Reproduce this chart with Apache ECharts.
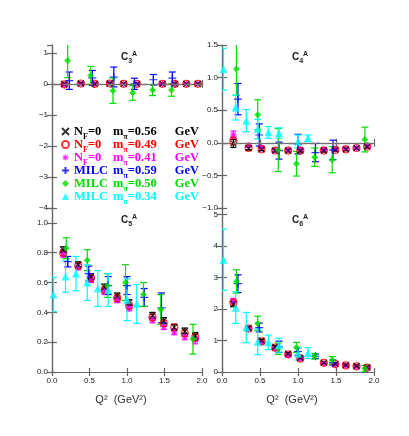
<!DOCTYPE html>
<html>
<head>
<meta charset="utf-8">
<script src="https://cdn.jsdelivr.net/npm/echarts@6/dist/echarts.min.js"></script>
<style>
  html, body { margin: 0; padding: 0; background: #fff; }
  #chart { width: 409px; height: 436px; }
</style>
</head>
<body>
<div id="chart"></div>
<script>
// Q^2 positions (GeV^2) of each data set
const qNf = [0.15, 0.35, 0.52, 0.70, 0.87, 1.03, 1.34, 1.49, 1.63, 1.77, 1.91];
const qBlue = [0.21, 0.49, 0.75, 1.00, 1.23, 1.46];
const qGreen = [0.19, 0.47, 0.74, 0.98, 1.22, 1.45, 1.88];
const qCyan = [0.02, 0.18, 0.32, 0.47, 0.61, 0.75, 1.00, 1.13];

// C3^A
const c3Black = [0.00, 0.01, 0.00, 0.01, 0.00, 0.00, 0.00, 0.00, 0.00, 0.00];
const c3Red = [-0.02, 0.01, 0.00, 0.01, 0.00, 0.00, 0.00, 0.00, 0.00, 0.00];
const c3Mag = [-0.04, 0.01, 0.00, 0.02, 0.00, 0.00, 0.00, 0.00, 0.00, 0.00];
const c3NfErr = [0.03, 0.02, 0.02, 0.02, 0.02, 0.02, 0.02, 0.02, 0.02, 0.02];
const c3Blue = [0.10, 0.19, 0.22, 0.00, 0.13, 0.18];
const c3BlueErr = [0.28, 0.24, 0.32, 0.18, 0.17, 0.20];
const c3Green = [0.75, 0.27, -0.22, -0.29, -0.20, -0.20];
const c3GreenErr = [0.55, 0.29, 0.41, 0.24, 0.18, 0.20];

// C4^A
const c4Black = [-0.01, -0.08, -0.10, -0.12, -0.12, -0.12, -0.12, -0.11, -0.10, -0.08, -0.06];
const c4Red = [0.03, -0.08, -0.10, -0.12, -0.12, -0.12, -0.12, -0.11, -0.10, -0.08, -0.06];
const c4Mag = [0.12, -0.04, -0.07, -0.11, -0.11, -0.10, -0.10, -0.10, -0.09, -0.08, -0.05];
const c4NfErr = [0.06, 0.03, 0.02, 0.02, 0.02, 0.02, 0.02, 0.02, 0.02, 0.02, 0.02];
const c4Blue = [0.67, 0.12, -0.12, -0.02, -0.15, -0.11];
const c4BlueErr = [0.24, 0.17, 0.13, 0.15, 0.14, 0.15];
const c4Green = [1.13, 0.43, -0.11, -0.32, -0.22, -0.26, 0.05];
const c4GreenErr = [0.40, 0.23, 0.33, 0.19, 0.14, 0.20, 0.19];
const c4Cyan = [1.13, 0.54, 0.34, 0.21, 0.16, 0.15, 0.02, 0.07];
const c4CyanErr = [0.32, 0.19, 0.17, 0.15, 0.09, 0.08, 0.10, 0.05];

// C5^A
const c5Black = [0.82, 0.72, 0.64, 0.57, 0.51, 0.465, 0.38, 0.345, 0.30, 0.275, 0.24];
const c5Red = [0.80, 0.714, 0.63, 0.55, 0.495, 0.444, 0.367, 0.327, 0.30, 0.26, 0.232];
const c5Mag = [0.79, 0.705, 0.62, 0.54, 0.485, 0.43, 0.35, 0.305, 0.27, 0.237, 0.214];
const c5NfErr = [0.02, 0.02, 0.02, 0.02, 0.02, 0.02, 0.02, 0.02, 0.02, 0.02, 0.025];
const c5Blue = [0.74, 0.66, 0.58, 0.58, 0.50, 0.43];
const c5BlueErr = [0.035, 0.05, 0.06, 0.06, 0.06, 0.10];
const c5Green = [0.83, 0.75, 0.58, 0.60, 0.52, 0.42, 0.22];
const c5GreenErr = [0.07, 0.07, 0.08, 0.12, 0.08, 0.10, 0.10];
const c5Cyan = [0.52, 0.64, 0.66, 0.60, 0.56, 0.55, 0.485, 0.457];
const c5CyanErr = [0.115, 0.105, 0.115, 0.12, 0.12, 0.11, 0.14, 0.13];

// C6^A
const c6Black = [2.15, 1.40, 1.00, 0.80, 0.58, 0.45, 0.30, 0.26, 0.22, 0.19, 0.15];
const c6Red = [2.20, 1.38, 0.97, 0.77, 0.56, 0.43, 0.29, 0.25, 0.21, 0.18, 0.14];
const c6Mag = [2.25, 1.36, 0.93, 0.74, 0.53, 0.41, 0.27, 0.23, 0.20, 0.17, 0.13];
const c6NfErr = [0.08, 0.05, 0.04, 0.04, 0.04, 0.03, 0.03, 0.03, 0.03, 0.03, 0.03];
const c6Blue = [2.80, 1.41, 0.80, 0.65, 0.50, 0.30];
const c6BlueErr = [0.28, 0.14, 0.18, 0.12, 0.07, 0.08];
const c6Green = [2.87, 1.54, 0.74, 0.78, 0.50, 0.37, 0.11];
const c6GreenErr = [0.37, 0.23, 0.18, 0.16, 0.09, 0.12, 0.10];
const c6Cyan = [3.56, 2.04, 1.41, 0.96, 0.94, 0.85, 0.58, 0.60];
const c6CyanErr = [0.97, 0.50, 0.48, 0.41, 0.23, 0.22, 0.20, 0.17];

const legendNames = ['nf56', 'nf49', 'nf41', 'milc59', 'milc50', 'milc34'];
const legendMass = ['0.56', '0.49', '0.41', '0.59', '0.50', '0.34'];

const chart = echarts.init(document.getElementById('chart'));

// marker styles
const styles = {
  nf56: { color: '#000000', symbol: 'path://M0,0L10,10M10,0L0,10', size: 6,
    item: { color: 'transparent', borderColor: '#000000', borderWidth: 1.1 }, cap: 3 },
  nf49: { color: '#ff0000', symbol: 'circle', size: 7,
    item: { color: 'transparent', borderColor: '#ff0000', borderWidth: 1.2 }, cap: 3 },
  nf41: { color: '#ff00ff',
    symbol: 'path://M10,5L7.4,6L8.54,8.54L6,7.4L5,10L4,7.4L1.46,8.54L2.6,6L0,5L2.6,4L1.46,1.46L4,2.6L5,0L6,2.6L8.54,1.46L7.4,4Z',
    size: 8, item: { color: '#ff00ff' }, cap: 3 },
  milc59: { color: '#0000ff', symbol: 'path://M5,0L5,10M0,5L10,5', size: 8,
    item: { color: 'transparent', borderColor: '#0000ff', borderWidth: 1.2 }, cap: 3.5 },
  milc50: { color: '#00dd00', symbol: 'diamond', size: 7, item: { color: '#00dd00' }, cap: 3.5 },
  milc34: { color: '#00ffff', symbol: 'triangle', size: 8, item: { color: '#00ffff' }, cap: 3.5 }
};

const series = [];

function makeErr(color, w) {
  return function (params, api) {
    const x = api.value(0);
    const lo = api.coord([x, api.value(2)]);
    const hi = api.coord([x, api.value(3)]);
    const style = { stroke: color, lineWidth: 1.2 };
    return {
      type: 'group',
      children: [
        { type: 'line', shape: { x1: lo[0], y1: lo[1], x2: hi[0], y2: hi[1] }, style: style },
        { type: 'line', shape: { x1: lo[0] - w, y1: lo[1], x2: lo[0] + w, y2: lo[1] }, style: style },
        { type: 'line', shape: { x1: hi[0] - w, y1: hi[1], x2: hi[0] + w, y2: hi[1] }, style: style }
      ]
    };
  };
}

function addSet(gi, key, xs, ys, es) {
  const st = styles[key];
  series.push({
    type: 'custom', name: key + '-err' + gi,
    xAxisIndex: 2 * gi, yAxisIndex: 2 * gi, clip: true,
    renderItem: makeErr(st.color, st.cap),
    encode: { x: 0, y: 1 },
    data: ys.map((y, i) => [xs[i], y, y - es[i], y + es[i]]),
    silent: true
  });
  series.push({
    type: 'scatter', name: key,
    xAxisIndex: 2 * gi, yAxisIndex: 2 * gi, clip: true,
    symbol: st.symbol, symbolSize: st.size, itemStyle: st.item,
    data: ys.map((y, i) => [xs[i], y]),
    silent: true
  });
}

// C3
addSet(0, 'nf41', qNf, c3Mag, c3NfErr);
addSet(0, 'nf49', qNf, c3Red, c3NfErr);
addSet(0, 'nf56', qNf, c3Black, c3NfErr);
addSet(0, 'milc59', qBlue, c3Blue, c3BlueErr);
addSet(0, 'milc50', qGreen, c3Green, c3GreenErr);
// C4
addSet(1, 'nf41', qNf, c4Mag, c4NfErr);
addSet(1, 'nf49', qNf, c4Red, c4NfErr);
addSet(1, 'nf56', qNf, c4Black, c4NfErr);
addSet(1, 'milc59', qBlue, c4Blue, c4BlueErr);
addSet(1, 'milc50', qGreen, c4Green, c4GreenErr);
addSet(1, 'milc34', qCyan, c4Cyan, c4CyanErr);
// C5
addSet(2, 'nf41', qNf, c5Mag, c5NfErr);
addSet(2, 'nf49', qNf, c5Red, c5NfErr);
addSet(2, 'nf56', qNf, c5Black, c5NfErr);
addSet(2, 'milc59', qBlue, c5Blue, c5BlueErr);
addSet(2, 'milc50', qGreen, c5Green, c5GreenErr);
addSet(2, 'milc34', qCyan, c5Cyan, c5CyanErr);
// C6
addSet(3, 'nf41', qNf, c6Mag, c6NfErr);
addSet(3, 'nf49', qNf, c6Red, c6NfErr);
addSet(3, 'nf56', qNf, c6Black, c6NfErr);
addSet(3, 'milc59', qBlue, c6Blue, c6BlueErr);
addSet(3, 'milc50', qGreen, c6Green, c6GreenErr);
addSet(3, 'milc34', qCyan, c6Cyan, c6CyanErr);

// dashed zero lines in the upper panels
[0, 1].forEach(gi => {
  series.push({
    type: 'line', xAxisIndex: 2 * gi, yAxisIndex: 2 * gi, data: [], silent: true,
    markLine: {
      silent: true, symbol: 'none', label: { show: false }, animation: false,
      lineStyle: { color: '#777', width: 1.3, type: [8, 3] },
      data: [{ yAxis: 0 }]
    },
    z: 1
  });
});

const frame = '#666';
const grids = [
  { left: 52, top: 45, width: 150, height: 163 },
  { left: 222, top: 45, width: 152, height: 163 },
  { left: 52, top: 208, width: 150, height: 164 },
  { left: 222, top: 208, width: 152, height: 164 }
];
const xMax = [1.82, 2, 2, 2];
const yRange = [[-4, 1.25, 1], [-1, 1.5, 0.5], [0, 1.1, 0.2], [0, 5.2, 1]];
const yDigits = [0, 1, 1, 0];

const xAxis = [];
const yAxis = [];
grids.forEach((g, gi) => {
  ['bottom', 'top'].forEach(pos => {
    const showLab = pos === 'bottom' && gi >= 2;
    xAxis.push({
      type: 'value', gridIndex: gi, position: pos, min: 0, max: xMax[gi], interval: 0.5,
      axisLine: { show: true, lineStyle: { color: frame, width: 1.2 } },
      axisTick: { show: true, inside: true, length: 4, lineStyle: { color: frame, width: 1.2 } },
      splitLine: { show: false },
      axisLabel: {
        show: showLab, color: '#222', fontSize: 8, fontFamily: 'Liberation Sans', margin: 5,
        formatter: v => v.toFixed(1), showMaxLabel: true
      },
      name: showLab ? 'Q²  (GeV²)' : '', nameLocation: 'middle', nameGap: 22,
      nameTextStyle: { fontSize: 11, color: '#333', fontFamily: 'Liberation Sans', padding: [0, 12, 0, 0] }
    });
  });
  ['left', 'right'].forEach(pos => {
    const r = yRange[gi];
    yAxis.push({
      type: 'value', gridIndex: gi, position: pos, min: r[0], max: r[1], interval: r[2],
      axisLine: { show: true, lineStyle: { color: frame, width: 1.2 } },
      axisTick: { show: true, inside: true, length: 5, lineStyle: { color: frame, width: 1.2 } },
      splitLine: { show: false },
      axisLabel: {
        show: pos === 'left', color: '#222', fontSize: 8, fontFamily: 'Liberation Sans', margin: 4,
        showMaxLabel: gi === 1,
        formatter: v => v.toFixed(yDigits[gi]).replace('-', '\u2212')
      }
    });
  });
});

const titleRich = {
  c: { fontSize: 10, fontFamily: 'Liberation Sans', color: '#222', lineHeight: 9 },
  s: { fontSize: 7, fontFamily: 'Liberation Sans', color: '#222', height: 2, lineHeight: 2, verticalAlign: 'bottom' },
  u: { fontSize: 7, fontFamily: 'Liberation Sans', color: '#222', height: 2, lineHeight: 2, verticalAlign: 'top' }
};
const title = ['3', '4', '5', '6'].map((n, gi) => ({
  text: '{c|C}{s|' + n + '}{u|A}',
  left: grids[gi].left + grids[gi].width / 2 - 6,
  top: grids[gi].top + 8,
  padding: 0,
  textStyle: { rich: titleRich }
}));

const serif = 'Liberation Serif';
const legendRich = {
  n: { fontFamily: serif, fontWeight: 'bold', fontSize: 12.5, lineHeight: 12 },
  s: { fontFamily: serif, fontWeight: 'bold', fontSize: 8, height: 2, lineHeight: 2, verticalAlign: 'bottom' },
  a: { fontFamily: serif, fontWeight: 'bold', fontSize: 12.5, lineHeight: 12, width: 25 },
  w: { fontFamily: serif, fontWeight: 'bold', fontSize: 12.5, lineHeight: 12, width: 39 },
  v: { fontFamily: serif, fontWeight: 'bold', fontSize: 12.5, lineHeight: 12, width: 47 }
};

chart.setOption({
  animation: false,
  backgroundColor: '#fff',
  title: title,
  grid: grids,
  xAxis: xAxis,
  yAxis: yAxis,
  legend: {
    orient: 'vertical', left: 61, top: 125, padding: 0,
    itemWidth: 7, itemHeight: 7, itemGap: -2.5, selectedMode: false,
    data: legendNames.map(n => ({ name: n, textStyle: { color: styles[n].color } })),
    textStyle: { rich: legendRich },
    formatter: function (name) {
      const i = legendNames.indexOf(name);
      const head = i < 3 ? '{n|N}{s|F}{a|=0}' : '{w|MILC}';
      return head + '{n|m}{s|\u03c0}{v|=' + legendMass[i] + '}{n|GeV}';
    }
  },
  series: series
});
</script>
</body>
</html>
